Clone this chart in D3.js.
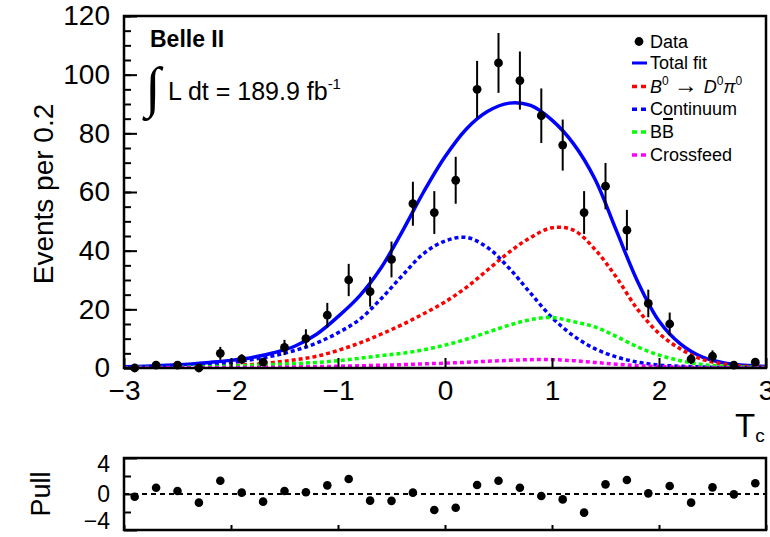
<!DOCTYPE html>
<html lang="en">
<head>
<meta charset="utf-8">
<title>T_c fit</title>
<script src="https://d3js.org/d3.v7.min.js"></script>
<style>
    body { margin: 0; background: #fff; }
    svg { display: block; font-family: "Liberation Sans", Arial, sans-serif; }
    .axis path { display: none; }
    .axis line { stroke: #000; stroke-width: 2; }
    .axis text { fill: #000; }
</style>
</head>
<body>
<div id="chart"></div>
<script>
// ---- data ----
var binCenters = [-2.9, -2.7, -2.5, -2.3, -2.1, -1.9, -1.7, -1.5, -1.3, -1.1,
                  -0.9, -0.7, -0.5, -0.3, -0.1, 0.1, 0.3, 0.5, 0.7, 0.9,
                  1.1, 1.3, 1.5, 1.7, 1.9, 2.1, 2.3, 2.5, 2.7, 2.9];
var counts = [0, 1, 1, 0, 5, 3, 2, 7, 10, 18,
              30, 26, 37, 56, 53, 64, 95, 104, 98, 86,
              76, 53, 62, 47, 22, 15, 3, 4, 1, 2];
var countErrors = [0, 1, 1, 0, 2.2, 1.7, 1.4, 2.6, 3.2, 4.2,
                   5.5, 5.1, 6.1, 7.5, 7.3, 8, 9.7, 10.2, 9.9, 9.3,
                   8.7, 7.3, 7.9, 6.9, 4.7, 3.9, 1.7, 2, 1, 1.4];
var pulls = [-0.3, 0.7, 0.33, -0.96, 1.48, 0.15, -0.85, 0.33, 0.19, 0.96,
             1.67, -0.74, -0.76, 0.15, -1.78, -1.52, 1.0, 1.48, 0.7, -0.22,
             -0.6, -2.07, 1.07, 1.56, 0.07, 0.89, -0.96, 0.74, -0.04, 1.19];

var fitT = [-3.0, -2.8, -2.6, -2.4, -2.2, -2.0, -1.8, -1.6, -1.4, -1.2, -1.0,
            -0.8, -0.6, -0.4, -0.2, 0.0, 0.2, 0.4, 0.6, 0.8, 1.0,
            1.2, 1.4, 1.6, 1.8, 2.0, 2.2, 2.4, 2.6, 2.8, 3.0];
var totalFit = [0.4, 0.6, 0.9, 1.3, 1.9, 2.6, 3.6, 5.2, 7.5, 11.5, 17.5,
                24.5, 34.0, 46.5, 60.0, 72.0, 81.5, 87.5, 90.3, 89.5, 84.5,
                76.5, 64.5, 47.0, 29.5, 16.0, 8.2, 3.8, 1.8, 0.9, 0.5];
var signal = [0.1, 0.15, 0.25, 0.4, 0.6, 0.85, 1.2, 1.9, 2.8, 4.0, 6.0,
              8.5, 11.5, 14.8, 18.5, 22.5, 27.5, 33.5, 39.5, 44.5, 47.8,
              47.0, 40.5, 31.0, 20.0, 11.8, 6.5, 3.0, 1.4, 0.6, 0.25];
var continuum = [0.2, 0.3, 0.5, 0.8, 1.3, 1.9, 2.9, 4.2, 6.0, 8.5, 12.0,
                 16.5, 23.5, 31.5, 39.0, 43.3, 44.5, 41.0, 34.0, 25.5, 17.2,
                 11.0, 6.6, 3.8, 2.0, 1.0, 0.6, 0.35, 0.2, 0.1, 0.05];
var bbbar = [0.1, 0.15, 0.2, 0.3, 0.45, 0.65, 0.9, 1.2, 1.5, 1.9, 2.5,
             3.3, 4.2, 5.0, 6.2, 7.8, 9.8, 12.2, 14.6, 16.5, 17.2,
             15.8, 14.0, 10.8, 7.2, 4.4, 2.5, 1.2, 0.6, 0.3, 0.15];
var crossfeed = [0.02, 0.03, 0.05, 0.07, 0.1, 0.15, 0.2, 0.25, 0.35, 0.45, 0.6,
                 0.75, 0.95, 1.15, 1.4, 1.65, 1.95, 2.3, 2.6, 2.85, 2.85,
                 2.5, 1.9, 1.3, 0.8, 0.5, 0.3, 0.15, 0.08, 0.04, 0.02];

var xTicks = [-3, -2, -1, 0, 1, 2, 3];
var yTicks = [0, 20, 40, 60, 80, 100, 120];
var pullTicks = [-4, 0, 4];
var pullMinorTicks = [-2, 2];

// ---- layout ----
var W = 770, H = 537;
var frame = { left: 124, right: 766, top: 16, bottom: 368 };
var pullFrame = { top: 458, bottom: 530 };

var x = d3.scaleLinear().domain([-3, 3]).range([frame.left, frame.right]);
var y = d3.scaleLinear().domain([0, 120]).range([frame.bottom, frame.top]);
var yp = d3.scaleLinear().domain([-4, 4]).range([pullFrame.bottom, pullFrame.top]);

var svg = d3.select("#chart").append("svg")
    .attr("width", W)
    .attr("height", H);

svg.append("clipPath").attr("id", "clip")
    .append("rect")
    .attr("x", frame.left).attr("y", frame.top)
    .attr("width", frame.right - frame.left)
    .attr("height", frame.bottom - frame.top);

// ---- fit curves ----
var line = d3.line()
    .x(function(d) { return x(d[0]); })
    .y(function(d) { return y(d[1]); })
    .curve(d3.curveCatmullRom);

function pairs(vals) { return fitT.map(function(t, i) { return [t, vals[i]]; }); }

var curves = svg.append("g").attr("clip-path", "url(#clip)");

curves.append("path")
    .attr("d", line(pairs(totalFit)))
    .attr("fill", "none")
    .attr("stroke", "#0000ff")
    .attr("stroke-width", 3.5);

var components = [
    { vals: signal, color: "#ff0000" },
    { vals: continuum, color: "#0000ff" },
    { vals: bbbar, color: "#00ff00" },
    { vals: crossfeed, color: "#ff00ff" }
];
components.forEach(function(c) {
    curves.append("path")
        .attr("d", line(pairs(c.vals)))
        .attr("fill", "none")
        .attr("stroke", c.color)
        .attr("stroke-width", 3.5)
        .attr("stroke-dasharray", "4,3");
});

// ---- data points ----
var pts = svg.append("g");
binCenters.forEach(function(t, i) {
    if (countErrors[i] > 0) {
        pts.append("line")
            .attr("x1", x(t)).attr("x2", x(t))
            .attr("y1", y(counts[i] - countErrors[i]))
            .attr("y2", y(counts[i] + countErrors[i]))
            .attr("stroke", "#000").attr("stroke-width", 2);
    }
    pts.append("circle")
        .attr("cx", x(t)).attr("cy", y(counts[i]))
        .attr("r", 4.4).attr("fill", "#000");
});

// ---- main axes ----
svg.append("g").attr("class", "axis")
    .attr("transform", "translate(" + frame.left + ",0)")
    .call(d3.axisLeft(y).tickValues(d3.range(0, 121, 5)).tickSizeInner(-7).tickSizeOuter(0).tickFormat(""));
svg.append("g").attr("class", "axis")
    .attr("transform", "translate(" + frame.left + ",0)")
    .call(d3.axisLeft(y).tickValues(yTicks).tickSizeInner(-13).tickSizeOuter(0).tickPadding(14))
    .selectAll("text").attr("font-size", 28);

svg.append("g").attr("class", "axis")
    .attr("transform", "translate(0," + frame.bottom + ")")
    .call(d3.axisBottom(x).tickValues(xTicks).tickFormat(d3.format("d"))
        .tickSizeInner(-10).tickSizeOuter(0).tickPadding(12))
    .selectAll("text").attr("font-size", 28);

svg.append("rect")
    .attr("x", frame.left).attr("y", frame.top)
    .attr("width", frame.right - frame.left)
    .attr("height", frame.bottom - frame.top)
    .attr("fill", "none").attr("stroke", "#000").attr("stroke-width", 2.5);

svg.append("text")
    .attr("transform", "translate(53,194) rotate(-90)")
    .attr("text-anchor", "middle")
    .attr("font-size", 28)
    .text("Events per 0.2");

var tc = svg.append("text").attr("x", 735).attr("y", 437).attr("font-size", 33).text("T");
tc.append("tspan").attr("font-size", 19).attr("dy", 5).text("c");

// ---- labels ----
svg.append("text")
    .attr("x", 150).attr("y", 47)
    .attr("font-size", 23).attr("font-weight", "bold")
    .text("Belle II");

svg.append("text")
    .attr("x", 145).attr("y", 106)
    .attr("font-size", 56)
    .attr("font-family", "'Liberation Serif', serif")
    .text("\u222B");

var lumi = svg.append("text").attr("x", 168).attr("y", 100).attr("font-size", 25).text("L dt = 189.9 fb");
lumi.append("tspan").attr("font-size", 15).attr("dy", -11).text("-1");

// ---- legend ----
var legendX = 632, legendTextX = 650;
var legendRows = [41.5, 63, 86.5, 109.3, 132, 155];
var legend = svg.append("g").attr("font-size", 18);

legend.append("circle").attr("cx", 639).attr("cy", legendRows[0]).attr("r", 4.4).attr("fill", "#000");
legend.append("text").attr("x", legendTextX).attr("y", legendRows[0] + 6).text("Data");

legend.append("line")
    .attr("x1", legendX).attr("x2", legendX + 15)
    .attr("y1", legendRows[1]).attr("y2", legendRows[1])
    .attr("stroke", "#0000ff").attr("stroke-width", 3);
legend.append("text").attr("x", legendTextX).attr("y", legendRows[1] + 6).text("Total fit");

components.forEach(function(c, i) {
    legend.append("line")
        .attr("x1", legendX).attr("x2", legendX + 14)
        .attr("y1", legendRows[i + 2]).attr("y2", legendRows[i + 2])
        .attr("stroke", c.color).attr("stroke-width", 3.5)
        .attr("stroke-dasharray", "5,4");
});

var sig = legend.append("text").attr("x", legendTextX).attr("y", legendRows[2] + 6);
sig.append("tspan").attr("font-style", "italic").text("B");
sig.append("tspan").attr("font-size", 12).attr("dy", -8).text("0");
sig.append("tspan").attr("dy", 8).attr("dx", 5).attr("font-size", 24).text("\u2192");
sig.append("tspan").attr("dx", 6).attr("font-style", "italic").text("D");
sig.append("tspan").attr("font-size", 12).attr("dy", -8).text("0");
sig.append("tspan").attr("dy", 8).attr("font-style", "italic").text("\u03C0");
sig.append("tspan").attr("font-size", 12).attr("dy", -8).text("0");

legend.append("text").attr("x", legendTextX).attr("y", legendRows[3] + 6).text("Continuum");

var bb = legend.append("text").attr("x", legendTextX).attr("y", legendRows[4] + 6).text("BB");
var ext = bb.node().getExtentOfChar(1);
legend.append("line")
    .attr("x1", ext.x + 1).attr("x2", ext.x + ext.width - 1)
    .attr("y1", legendRows[4] - 13).attr("y2", legendRows[4] - 13)
    .attr("stroke", "#000").attr("stroke-width", 2);

legend.append("text").attr("x", legendTextX).attr("y", legendRows[5] + 6).text("Crossfeed");

// ---- pull panel ----
svg.append("line")
    .attr("x1", x(-3)).attr("x2", x(3))
    .attr("y1", yp(0)).attr("y2", yp(0))
    .attr("stroke", "#000").attr("stroke-width", 2)
    .attr("stroke-dasharray", "5,4");

svg.append("g").selectAll("circle")
    .data(pulls)
    .enter().append("circle")
    .attr("cx", function(d, i) { return x(binCenters[i]); })
    .attr("cy", function(d) { return yp(d); })
    .attr("r", 4.3)
    .attr("fill", "#000");

svg.append("g").attr("class", "axis")
    .attr("transform", "translate(" + frame.left + ",0)")
    .call(d3.axisLeft(yp).tickValues(pullMinorTicks).tickSizeInner(-7).tickSizeOuter(0).tickFormat(""));
var pullAxis = svg.append("g").attr("class", "axis")
    .attr("transform", "translate(" + frame.left + ",0)")
    .call(d3.axisLeft(yp).tickValues(pullTicks).tickSizeInner(-13).tickSizeOuter(0).tickPadding(14));
pullAxis.selectAll("text")
    .attr("font-size", 23)
    .attr("dy", function(d) { return d === 4 ? "0.6em" : d === -4 ? "-0.05em" : "0.32em"; });

svg.append("g").attr("class", "axis")
    .attr("transform", "translate(0," + pullFrame.bottom + ")")
    .call(d3.axisBottom(x).tickValues(xTicks).tickSizeInner(-5).tickSizeOuter(0).tickFormat(""));

svg.append("rect")
    .attr("x", frame.left).attr("y", pullFrame.top)
    .attr("width", frame.right - frame.left)
    .attr("height", pullFrame.bottom - pullFrame.top)
    .attr("fill", "none").attr("stroke", "#000").attr("stroke-width", 2.5);

svg.append("text")
    .attr("transform", "translate(50,494) rotate(-90)")
    .attr("text-anchor", "middle")
    .attr("font-size", 27)
    .text("Pull");
</script>
</body>
</html>
